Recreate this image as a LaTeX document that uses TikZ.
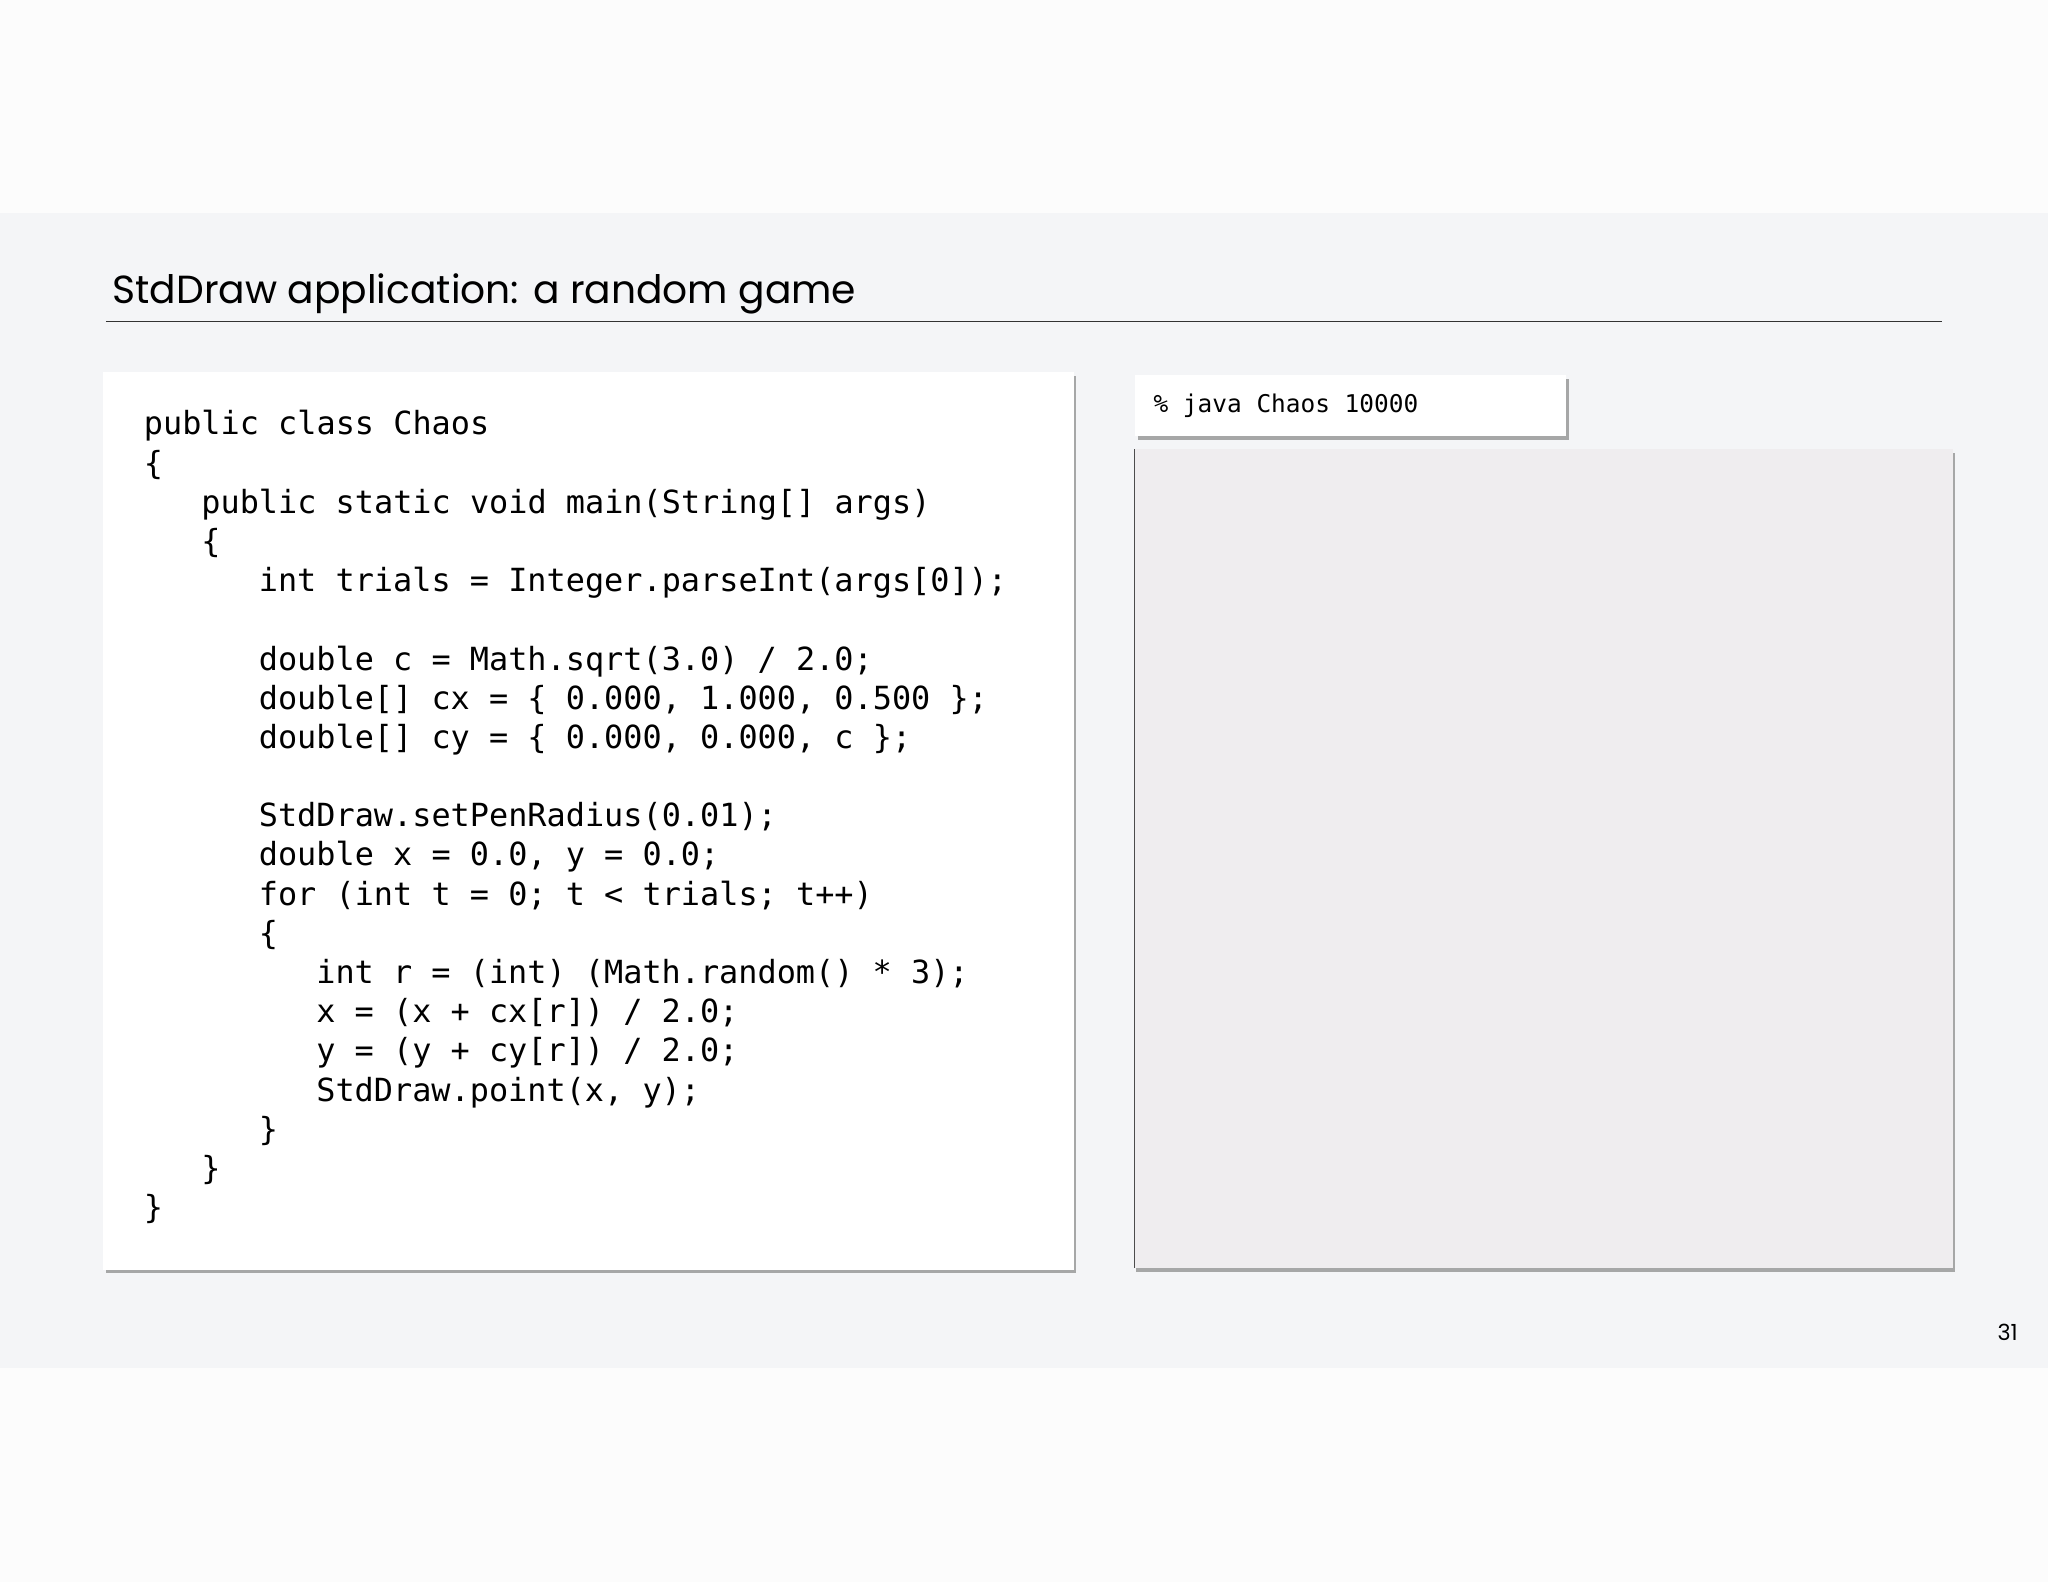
\documentclass[tikz,border=0pt]{standalone}
\usepackage{fontspec}
\setmainfont{Poppins}
\setmonofont{DejaVu Sans Mono}
\usetikzlibrary{shadows}
\definecolor{band}{HTML}{F4F5F7}
\definecolor{plotbg}{HTML}{EFEDEF}
\tikzset{
  panel/.style={draw=none, drop shadow={shadow xshift=2bp, shadow yshift=-3bp, fill=black!55, opacity=0.6}},
  codeline/.style={anchor=base west, inner sep=0, font=\fontsize{24.4bp}{30bp}\selectfont\ttfamily},
}
\begin{document}
\begin{tikzpicture}[x=1bp,y=-1bp]
\useasboundingbox (0,0) rectangle (1568,1211);
\fill[white!99!black] (0,0) rectangle (1568,1211);
\fill[band] (0,163) rectangle (1568,1047);
\node[anchor=base west, inner sep=0, font=\fontsize{30bp}{34bp}\selectfont] (title) at (86,232) {StdDraw application: a random game};
\draw[line width=0.8bp, black!80] (81,246) -- (1487,246);
% code panel
\fill[white, panel] (79,285) rectangle (822,972);
\node[codeline] (l1) at (110,333) {public class Chaos};
\node[codeline] (l2) at (110,363) {\{};
\node[codeline] (l3) at (154,393) {public static void main(String[] args)};
\node[codeline] (l4) at (154,423) {\{};
\node[codeline] (l5) at (198,453) {int trials = Integer.parseInt(args[0]);};
\node[codeline] (l6) at (198,513) {double c = Math.sqrt(3.0) / 2.0;};
\node[codeline] (l7) at (198,543) {double[] cx = \{ 0.000, 1.000, 0.500 \};};
\node[codeline] (l8) at (198,573) {double[] cy = \{ 0.000, 0.000, c \};};
\node[codeline] (l9) at (198,633) {StdDraw.setPenRadius(0.01);};
\node[codeline] (l10) at (198,663) {double x = 0.0, y = 0.0;};
\node[codeline] (l11) at (198,693) {for (int t = 0; t < trials; t++)};
\node[codeline] (l12) at (198,723) {\{};
\node[codeline] (l13) at (242,753) {int r = (int) (Math.random() * 3);};
\node[codeline] (l14) at (242,783) {x = (x + cx[r]) / 2.0;};
\node[codeline] (l15) at (242,813) {y = (y + cy[r]) / 2.0;};
\node[codeline] (l16) at (242,843) {StdDraw.point(x, y);};
\node[codeline] (l17) at (198,873) {\}};
\node[codeline] (l18) at (154,903) {\}};
\node[codeline] (l19) at (110,933) {\}};
% terminal
\fill[white, panel] (869,287) rectangle (1199,334);
\node[anchor=base west, inner sep=0, font=\fontsize{18.7bp}{22bp}\selectfont\ttfamily] (cmd) at (883,316) {\% java Chaos 10000};
% plot
\fill[plotbg, panel] (868,344) rectangle (1495,971);
\draw[black!70, line width=1bp] (868.5,344) -- (868.5,971);
\node[anchor=base east, inner sep=0, font=\fontsize{17bp}{20bp}\selectfont] (pg) at (1545,1026) {31};
\end{tikzpicture}
\end{document}
